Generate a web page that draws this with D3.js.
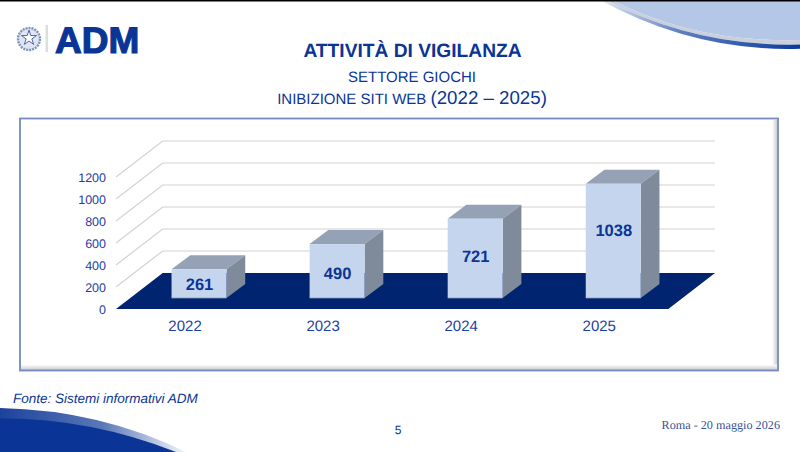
<!DOCTYPE html>
<html lang="it">
<head>
<meta charset="UTF-8">
<title>Attività di vigilanza</title>
<script src="https://d3js.org/d3.v7.min.js"></script>
<style>
  html, body { margin: 0; padding: 0; background: #fff; }
  svg { display: block; font-family: "Liberation Sans", Arial, sans-serif; text-rendering: geometricPrecision; }
</style>
</head>
<body>
<div id="chart"></div>
<script>
const years = ["2022", "2023", "2024", "2025"];
const values = [261, 490, 721, 1038];
const yTicks = [0, 200, 400, 600, 800, 1000, 1200];

const width = 800, height = 452;
const blue = "#1c409f", navy = "#0a3596";

const svg = d3.select("#chart").append("svg")
  .attr("width", width)
  .attr("height", height);

// gradients for the swooshes and the frame shadow
const defs = svg.append("defs");
function gradient(id, x2, y2, stops) {
  const g = defs.append("linearGradient").attr("id", id)
    .attr("x1", 0).attr("y1", 0).attr("x2", x2).attr("y2", y2);
  stops.forEach(s => g.append("stop").attr("offset", s[0]).attr("stop-color", s[1]));
}
gradient("topStripe", 1, 0, [[0, "#e4e9f4"], [0.4, "#5f7fc0"], [1, "#0b3a9c"]]);
gradient("bottomStripe", 1, 0, [[0, "#1c429c"], [0.55, "#5a78b8"], [1, "#f2f4fa"]]);
gradient("shadowR", 1, 0, [[0, "#ffffff"], [1, "#c9c9c9"]]);
gradient("shadowB", 0, 1, [[0, "#ffffff"], [1, "#c9c9c9"]]);

// slide background
svg.append("path")
  .attr("d", "M612,0 Q695,43 800,40 L800,0 Z")
  .attr("fill", "#b4c7e6");
svg.append("path")
  .attr("d", "M606,0 Q695,47 800,44.5 L800,40 Q695,43 612,0 Z")
  .attr("fill", "#c9d0dc");
svg.append("path")
  .attr("d", "M600,0 Q695,52 800,48.7 L800,44.5 Q695,47 606,0 Z")
  .attr("fill", "url(#topStripe)");
svg.append("rect").attr("width", width).attr("height", 1.5).attr("fill", "#000");

svg.append("path")
  .attr("d", "M0,408 Q100,410 186,452 L0,452 Z")
  .attr("fill", "url(#bottomStripe)");
svg.append("path")
  .attr("d", "M0,418.5 Q90,418 176,452 L0,452 Z")
  .attr("fill", "#0a3596");

// logo
const logo = svg.append("g");
logo.append("circle").attr("cx", 29).attr("cy", 39).attr("r", 11)
  .attr("fill", "#dfe5f1").attr("stroke", "#7f93bd").attr("stroke-width", 2.4)
  .attr("stroke-dasharray", "2 1");
logo.append("path")
  .attr("d", d3.symbol(d3.symbolStar, 70))
  .attr("transform", "translate(29,38)")
  .attr("fill", "#fff").attr("stroke", "#4c66a4").attr("stroke-width", 1);
logo.append("rect").attr("x", 45.5).attr("y", 25).attr("width", 2.5).attr("height", 27)
  .attr("fill", "#d9e0dc");
logo.append("text").attr("x", 55).attr("y", 52.5)
  .attr("font-size", 37).attr("font-weight", "bold")
  .attr("fill", navy).attr("stroke", navy).attr("stroke-width", 1.2)
  .text("ADM");

// titles
const titles = svg.append("g").attr("text-anchor", "middle").attr("fill", navy);
titles.append("text").attr("x", 412.5).attr("y", 57)
  .attr("font-size", 19.2).attr("font-weight", "bold")
  .text("ATTIVITÀ DI VIGILANZA");
titles.append("text").attr("x", 412).attr("y", 81.5)
  .attr("font-size", 15)
  .text("SETTORE GIOCHI");
const sub = titles.append("text").attr("x", 412).attr("y", 104).attr("font-size", 15);
sub.append("tspan").text("INIBIZIONE SITI WEB ");
sub.append("tspan").attr("font-size", 18.7).text("(2022 – 2025)");

// frame
svg.append("rect").attr("x", 20).attr("y", 118.5).attr("width", 758).attr("height", 252)
  .attr("fill", "#fff");
svg.append("rect").attr("x", 772).attr("y", 120).attr("width", 5.5).attr("height", 250)
  .attr("fill", "url(#shadowR)");
svg.append("rect").attr("x", 21).attr("y", 364.5).attr("width", 756).attr("height", 5.5)
  .attr("fill", "url(#shadowB)");
svg.append("rect").attr("x", 20).attr("y", 118.5).attr("width", 758).attr("height", 252)
  .attr("fill", "none").attr("stroke", "#7389c0").attr("stroke-width", 1.8);

// chart: front plane of the 3d box, depth goes up and to the right
const x = d3.scaleBand().domain(years).range([116, 668.3]);
const y = d3.scaleLinear().domain([0, 1200]).range([309, 177]);
const backDx = 46.7, backDy = -36;     // floor depth
const barDx = 18.7, barDy = -14;       // bar depth
const barShiftX = 14, barShiftY = -11; // bars stand inside the floor
const barW = 55;
// the value labels are not exactly at the middle of the bars
const labelShift = [0, 2, -2, -11];

const grid = svg.append("g").attr("fill", "none").attr("stroke", "#d2d2d2").attr("stroke-width", 1.2);
grid.selectAll("path")
  .data(yTicks.filter(d => d > 0))
  .join("path")
  .attr("d", d => {
    const p = d3.path();
    p.moveTo(x.range()[0], y(d));
    p.lineTo(x.range()[0] + backDx, y(d) + backDy);
    p.lineTo(x.range()[1] + backDx, y(d) + backDy);
    return p.toString();
  });

const floor = d3.path();
floor.moveTo(x.range()[0], y(0));
floor.lineTo(x.range()[0] + backDx, y(0) + backDy);
floor.lineTo(x.range()[1] + backDx, y(0) + backDy);
floor.lineTo(x.range()[1], y(0));
floor.closePath();
svg.append("path").attr("d", floor.toString()).attr("fill", "#00246f");

const data = years.map((year, i) => ({ year, value: values[i], shift: labelShift[i] }));
const barLeft = d => x(d.year) + (x.bandwidth() - barW) / 2 + barShiftX;
const barTop = d => y(d.value) + barShiftY;
const barBase = y(0) + barShiftY;

const bars = svg.append("g").selectAll("g").data(data).join("g");

bars.append("path")
  .attr("fill", "#95a2b6")
  .attr("d", d => {
    const l = barLeft(d), t = barTop(d);
    return `M${l},${t}l${barDx},${barDy}h${barW}l${-barDx},${-barDy}Z`;
  });
bars.append("path")
  .attr("fill", "#7f8a9b")
  .attr("d", d => {
    const r = barLeft(d) + barW, t = barTop(d);
    return `M${r},${t}l${barDx},${barDy}V${barBase + barDy}L${r},${barBase}Z`;
  });
bars.append("rect")
  .attr("x", barLeft)
  .attr("y", barTop)
  .attr("width", barW)
  .attr("height", d => barBase - barTop(d))
  .attr("fill", "#c5d5ee");
bars.append("path")
  .attr("fill", "none").attr("stroke", "#8c9bb5").attr("stroke-width", 0.8)
  .attr("d", d => `M${barLeft(d)},${barBase}h${barW}`);

bars.append("text")
  .attr("x", d => barLeft(d) + barW / 2 + 0.5)
  .attr("y", d => (barTop(d) + barBase) / 2 + d.shift)
  .attr("dy", "0.36em")
  .attr("text-anchor", "middle")
  .attr("font-size", 16.5)
  .attr("font-weight", "bold")
  .attr("fill", navy)
  .text(d => d.value);

// axes
const xAxis = svg.append("g")
  .attr("transform", `translate(0,${y(0)})`)
  .call(d3.axisBottom(x).tickSize(0).tickPadding(11));
xAxis.select(".domain").remove();
xAxis.selectAll("text")
  .attr("font-family", "Liberation Sans")
  .attr("font-size", 15)
  .attr("fill", blue);

const yAxis = svg.append("g")
  .attr("transform", `translate(${x.range()[0]},0)`)
  .call(d3.axisLeft(y).tickValues(yTicks).tickFormat(d3.format("d")).tickSize(0).tickPadding(10));
yAxis.select(".domain").remove();
yAxis.selectAll("text")
  .attr("font-family", "Liberation Sans")
  .attr("font-size", 12.5)
  .attr("fill", blue);

// footer
svg.append("text").attr("x", 13).attr("y", 403)
  .attr("font-size", 13.5).attr("font-style", "italic").attr("fill", navy)
  .text("Fonte: Sistemi informativi ADM");
svg.append("text").attr("x", 398).attr("y", 434)
  .attr("text-anchor", "middle").attr("font-size", 12).attr("fill", navy)
  .text("5");
svg.append("text").attr("x", 780).attr("y", 428.5)
  .attr("text-anchor", "end").attr("font-size", 12.2)
  .attr("font-family", "Liberation Serif").attr("fill", "#34529c")
  .text("Roma - 20 maggio 2026");
</script>
</body>
</html>
